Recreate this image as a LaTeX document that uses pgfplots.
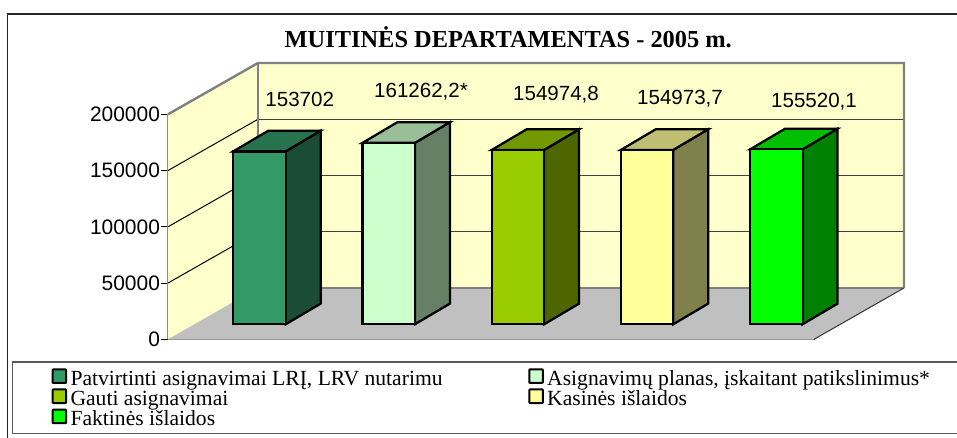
\documentclass[border=0pt]{standalone}
\usepackage{fontspec}
\setmainfont{Liberation Sans}
\newfontfamily\serif{Liberation Serif}
\usepackage{pgfplots}
\pgfplotsset{compat=1.18}
\definecolor{wallc}{HTML}{FFFFCC}
\definecolor{floorc}{HTML}{C0C0C0}
\definecolor{edgec}{HTML}{808080}
\definecolor{aF}{HTML}{339966}\definecolor{aT}{HTML}{26734D}\definecolor{aS}{HTML}{1A4D33}
\definecolor{bF}{HTML}{CCFFCC}\definecolor{bT}{HTML}{99BF99}\definecolor{bS}{HTML}{668066}
\definecolor{cF}{HTML}{99CC00}\definecolor{cT}{HTML}{739900}\definecolor{cS}{HTML}{4D6600}
\definecolor{dF}{HTML}{FFFF99}\definecolor{dT}{HTML}{BFBF73}\definecolor{dS}{HTML}{80804D}
\definecolor{eF}{HTML}{00FF00}\definecolor{eT}{HTML}{00BF00}\definecolor{eS}{HTML}{008000}
\newcommand{\LE}[1]{\makebox[342.5pt][l]{\rule[-4.6pt]{0pt}{15.75pt}#1}}
\newcommand{\LEb}[1]{\rule[-4.6pt]{0pt}{15.75pt}#1}
\pgfplotsset{
  barface/.style={ybar, bar width=39.4pt, bar shift=0pt, yshift=11.25pt, draw=black, line width=1.7pt},
  barpoly/.style={forget plot, draw=black, line width=1.7pt, yshift=11.25pt, line join=miter, mark=none},
  wall/.style={forget plot, draw=none, mark=none},
  gline/.style={forget plot, mark=none, draw=#1, line width=0.75pt},
}
\begin{document}
\begin{tikzpicture}
\useasboundingbox (-126pt,-74.025pt) rectangle (591.75pt,254.475pt);
\begin{axis}[
  scale only axis, width=485.25pt, height=168.75pt,
  xmin=168, xmax=815, ymin=0, ymax=200000,
  clip=false,
  axis x line=bottom, axis y line=left,
  axis line style={-, edgec, line width=1.5pt},
  xtick=\empty,
  ytick={0,50000,100000,150000,200000},
  tick align=outside,
  major tick length=5.25pt,
  ytick style={black, line width=0.75pt},
  scaled y ticks=false,
  /pgf/number format/.cd, fixed, 1000 sep={}, assume math mode=true, /pgfplots/.cd,
  yticklabel style={font=\fontsize{15.7}{18}\selectfont, inner sep=0.6pt},
  legend columns=2,
  legend style={at={(axis cs:50.3,-25600)}, anchor=north west, draw=none, fill=none, inner sep=0pt,
    font=\serif\fontsize{16.2}{15.75}\selectfont,
    row sep=0.75pt, column sep=0pt, nodes={inner sep=0pt, anchor=base west}},
  legend image code/.code={\draw[#1, line width=1.5pt, rounded corners=0.5pt] (0.75pt,-9.35pt) rectangle (10.8pt,0.85pt); \path (0,0) (13.3pt,0);},
]
% walls and floor
\addplot[wall, fill=wallc] coordinates {(168,0)(258,45600)(258,245600)(168,200000)} --cycle;
\addplot[wall, fill=wallc] coordinates {(258,45600)(904,45600)(904,245600)(258,245600)} --cycle;
\addplot[wall, fill=floorc] coordinates {(168,0)(814,0)(904,45600)(258,45600)} --cycle;
% gridlines
\addplot[gline=black!75] coordinates {(258,95600)(904,95600)};
\addplot[gline=black!75] coordinates {(258,145600)(904,145600)};
\addplot[gline=black!75] coordinates {(258,195600)(904,195600)};
\addplot[gline=black] coordinates {(168,50000)(258,95600)};
\addplot[gline=black] coordinates {(168,100000)(258,145600)};
\addplot[gline=black] coordinates {(168,150000)(258,195600)};
% wall edges
\addplot[forget plot, mark=none, draw=edgec, line width=1.8pt] coordinates {(168,200000)(258,245600)(904,245600)(904,45600)};
\addplot[forget plot, mark=none, draw=edgec, line width=1.8pt] coordinates {(258,245600)(258,45600)(904,45600)};
\addplot[forget plot, mark=none, draw=black!80, line width=0.75pt] coordinates {(904,45600)(814,0)};
% bar 1
\addplot[barpoly, fill=aS] coordinates {(285.7,0)(320.7,18400)(320.7,172102)(285.7,153702)} --cycle;
\addplot[barpoly, fill=aT] coordinates {(233.3,153702)(285.7,153702)(320.7,172102)(268.3,172102)} --cycle;
\addplot[barface, fill=aF] coordinates {(259.5,153702)};
% bar 2
\addplot[barpoly, fill=bS] coordinates {(414.9,0)(449.9,18400)(449.9,179662.2)(414.9,161262.2)} --cycle;
\addplot[barpoly, fill=bT] coordinates {(362.5,161262.2)(414.9,161262.2)(449.9,179662.2)(397.5,179662.2)} --cycle;
\addplot[barface, fill=bF] coordinates {(388.7,161262.2)};
% bar 3
\addplot[barpoly, fill=cS] coordinates {(544.1,0)(579.1,18400)(579.1,173374.8)(544.1,154974.8)} --cycle;
\addplot[barpoly, fill=cT] coordinates {(491.7,154974.8)(544.1,154974.8)(579.1,173374.8)(526.7,173374.8)} --cycle;
\addplot[barface, fill=cF] coordinates {(517.9,154974.8)};
% bar 4
\addplot[barpoly, fill=dS] coordinates {(673.2,0)(708.2,18400)(708.2,173373.7)(673.2,154973.7)} --cycle;
\addplot[barpoly, fill=dT] coordinates {(620.8,154973.7)(673.2,154973.7)(708.2,173373.7)(655.8,173373.7)} --cycle;
\addplot[barface, fill=dF] coordinates {(647,154973.7)};
% bar 5
\addplot[barpoly, fill=eS] coordinates {(802.6,0)(837.6,18400)(837.6,173920.1)(802.6,155520.1)} --cycle;
\addplot[barpoly, fill=eT] coordinates {(750.2,155520.1)(802.6,155520.1)(837.6,173920.1)(785.2,173920.1)} --cycle;
\addplot[barface, fill=eF] coordinates {(776.4,155520.1)};
\legend{\LE{Patvirtinti asignavimai LRĮ, LRV nutarimu},\LEb{Asignavimų planas, įskaitant patikslinimus*},
  \LE{Gauti asignavimai},\LEb{Kasinės išlaidos},\LE{Faktinės išlaidos}}
% data labels
\node[font=\fontsize{15.4}{18}\selectfont] at (axis cs:299.7,213600) {153702};
\node[font=\fontsize{15.4}{18}\selectfont] at (axis cs:421,220089) {161262,2*};
\node[font=\fontsize{15.4}{18}\selectfont] at (axis cs:556,217156) {154974,8};
\node[font=\fontsize{15.4}{18}\selectfont] at (axis cs:680,213600) {154973,7};
\node[font=\fontsize{15.4}{18}\selectfont] at (axis cs:814,211200) {155520,1};
% title
\node[font=\serif\bfseries\fontsize{18.3}{20}\selectfont, anchor=base] at (axis cs:508.3,258933) {MUITINĖS DEPARTAMENTAS - 2005 m.};
% frames
\draw[black!85, line width=1.2pt] (axis cs:7.5,-87733) -- (axis cs:7.5,289156) -- (axis cs:957,289156);
\draw[black!65, line width=1.1pt] (axis cs:957,-20178) -- (axis cs:12.7,-20178) -- (axis cs:12.7,-83556) -- (axis cs:957,-83556);
\end{axis}
\end{tikzpicture}
\end{document}
